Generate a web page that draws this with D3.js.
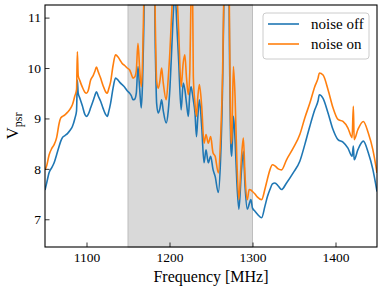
<!DOCTYPE html>
<html>
<head>
<meta charset="utf-8">
<script src="https://cdn.jsdelivr.net/npm/d3@7"></script>
<style>
  body { margin: 0; background: #fff; }
  text { font-family: "Liberation Serif", "Times New Roman", serif; fill: #000; }
</style>
</head>
<body>
<div id="chart"></div>
<script>
const width = 382;
const height = 289;
const margin = { top: 5, right: 5, bottom: 42, left: 45 };

// Frequencies in MHz (shared by both series)
const freq = [
    1050, 1052, 1055, 1058, 1061, 1064, 1067, 1069, 1071, 1074, 1077, 1080, 1083, 1086, 1088, 1089,
    1090, 1092, 1095, 1098, 1100, 1102, 1105, 1108, 1110, 1112, 1114, 1117, 1120, 1123, 1125, 1127,
    1129, 1132, 1135, 1138, 1141, 1143, 1146, 1149, 1152, 1154, 1156, 1158, 1160, 1162, 1164, 1166,
    1167.5, 1169, 1171, 1176, 1181, 1183, 1184.5, 1186.5, 1188.5, 1190.5, 1192.5, 1196, 1198.5, 1200.6,
    1203, 1205, 1207, 1209, 1211, 1214, 1216.5, 1218.5, 1220.5, 1222.7, 1224.5, 1226, 1227.5, 1228.7,
    1230.7, 1232.5, 1234, 1236, 1238.8, 1241.6, 1244, 1246.7, 1249.6, 1252.4, 1255, 1258.8, 1261.5, 1264,
    1265.5, 1267, 1271, 1272.5, 1274, 1275, 1277, 1279, 1281, 1283.6, 1286.5, 1289, 1291, 1293.7,
    1296, 1298, 1300, 1303, 1306, 1311, 1315, 1318, 1321, 1324, 1327, 1331, 1335, 1341, 1349, 1357,
    1363, 1369, 1375, 1379, 1380.5, 1385, 1391, 1397, 1403, 1409, 1415, 1420, 1421.5, 1422.5, 1427,
    1433.5, 1439.5, 1445, 1450
];

const noiseOff = [
    7.58, 7.72, 7.93, 8.02, 8.12, 8.28, 8.45, 8.55, 8.62, 8.66, 8.70, 8.76, 8.84, 9.00, 9.15, 9.76,
    9.50, 9.40, 9.25, 9.08, 9.04, 9.08, 9.21, 9.35, 9.45, 9.53, 9.45, 9.34, 9.20, 9.08, 9.04, 9.15,
    9.30, 9.60, 9.80, 9.76, 9.70, 9.67, 9.62, 9.55, 9.50, 9.45, 9.37, 9.38, 9.50, 10.03, 9.60, 9.21,
    9.70, 10.8, 12.5, 12.0, 12.5, 10.3, 9.30, 9.11, 9.20, 9.37, 9.15, 8.91, 9.15, 9.63,
    10.5, 11.2, 11.4, 10.8, 10.16, 9.17, 9.70, 9.57, 9.30, 9.04, 9.50, 9.63, 9.50, 9.37,
    9.11, 8.64, 9.00, 9.37, 8.84, 8.12, 8.38, 8.12, 8.25, 7.99, 7.85, 7.53, 8.18, 9.70,
    11.3, 12.5, 12.5, 10.0, 8.40, 8.25, 9.04, 8.58, 7.79, 7.20, 7.92, 8.35, 7.66, 7.20,
    7.30, 7.39, 7.22, 7.16, 7.10, 7.03, 7.26, 7.45, 7.59, 7.70, 7.72, 7.66, 7.59, 7.72, 7.92, 8.15,
    8.48, 8.84, 9.17, 9.35, 9.47, 9.40, 9.11, 8.78, 8.58, 8.53, 8.41, 8.25, 8.45, 8.18, 8.38,
    8.55, 8.32, 7.99, 7.55
];

const noiseOn = [
    7.98, 8.06, 8.28, 8.40, 8.48, 8.62, 8.90, 9.01, 9.04, 9.07, 9.12, 9.18, 9.27, 9.45, 9.57, 10.32,
    9.85, 9.75, 9.62, 9.52, 9.50, 9.55, 9.76, 9.85, 9.93, 10.02, 9.93, 9.80, 9.65, 9.53, 9.50, 9.60,
    9.72, 10.05, 10.26, 10.22, 10.14, 10.09, 10.05, 10.00, 9.96, 9.88, 9.80, 9.82, 9.95, 10.49, 10.00, 9.63,
    10.10, 11.3, 13.0, 12.5, 13.0, 10.8, 9.75, 9.60, 9.75, 10.00, 9.70, 9.37, 9.80, 10.36,
    11.2, 12.0, 12.0, 11.5, 10.75, 9.63, 10.10, 10.26, 9.80, 9.47, 9.95, 11.5, 12.0, 9.83,
    9.30, 9.04, 9.40, 9.67, 9.24, 8.51, 8.68, 8.51, 8.64, 8.32, 8.25, 7.92, 8.58, 9.93,
    11.5, 12.8, 12.8, 10.5, 8.50, 8.60, 10.03, 9.43, 8.25, 7.39, 8.18, 8.61, 7.85, 7.39,
    7.59, 7.58, 7.55, 7.50, 7.44, 7.39, 7.60, 7.80, 7.98, 8.08, 8.06, 8.00, 7.98, 8.18, 8.41, 8.68,
    9.01, 9.30, 9.63, 9.80, 9.90, 9.86, 9.57, 9.21, 8.98, 8.94, 8.81, 8.62, 9.24, 8.58, 8.78,
    8.94, 8.71, 8.38, 7.92
];

const seriesNames = ["noise off", "noise on"];
const seriesColors = ["#1f77b4", "#ff7f0e"];
const xTicks = [1100, 1200, 1300, 1400];
const yTicks = [7, 8, 9, 10, 11];
const shadedBand = [1150, 1300];

const svg = d3.select("#chart")
    .append("svg")
    .attr("width", width)
    .attr("height", height);

const x = d3.scaleLinear()
    .domain([1050, 1450])
    .range([margin.left, width - margin.right]);

const y = d3.scaleLinear()
    .domain([6.45, 11.25])
    .range([height - margin.bottom, margin.top]);

svg.append("defs").append("clipPath")
    .attr("id", "plot-clip")
    .append("rect")
    .attr("x", margin.left)
    .attr("y", margin.top)
    .attr("width", width - margin.left - margin.right)
    .attr("height", height - margin.top - margin.bottom);

// Shaded frequency band
svg.append("rect")
    .attr("x", x(shadedBand[0]))
    .attr("y", margin.top)
    .attr("width", x(shadedBand[1]) - x(shadedBand[0]))
    .attr("height", height - margin.top - margin.bottom)
    .attr("fill", "#d9d9d9")
    .attr("stroke", "#bebebe")
    .attr("stroke-width", 1);

// Spectra
const line = d3.line()
    .x((d, i) => x(freq[i]))
    .y(d => y(d))
    .curve(d3.curveMonotoneX);

const plot = svg.append("g").attr("clip-path", "url(#plot-clip)");

[noiseOff, noiseOn].forEach((values, k) => {
    plot.append("path")
        .datum(values)
        .attr("fill", "none")
        .attr("stroke", seriesColors[k])
        .attr("stroke-width", 1.6)
        .attr("stroke-linejoin", "round")
        .attr("d", line);
});

// Axes with inward ticks
const xMinor = d3.range(1060, 1450, 20).filter(v => v % 100 !== 0);
const yMinor = d3.range(6.6, 11.25, 0.2).filter(v => Math.abs(v - Math.round(v)) > 0.01);

const xAxis = svg.append("g")
    .attr("transform", `translate(0, ${height - margin.bottom})`);
xAxis.call(d3.axisBottom(x).tickValues(xMinor).tickSize(-2.5).tickFormat(""));
xAxis.call(d3.axisBottom(x).tickValues(xTicks).tickSize(-4.5).tickPadding(5).tickFormat(d3.format("d")));

const yAxis = svg.append("g")
    .attr("transform", `translate(${margin.left}, 0)`);
yAxis.call(d3.axisLeft(y).tickValues(yMinor).tickSize(-2.5).tickFormat(""));
yAxis.call(d3.axisLeft(y).tickValues(yTicks).tickSize(-4.5).tickPadding(4).tickFormat(d3.format("d")));

svg.selectAll(".domain").remove();
svg.selectAll(".tick line").attr("stroke", "#000").attr("stroke-width", 0.8);
svg.selectAll(".tick text")
    .style("font-family", "'Liberation Serif', serif")
    .style("font-size", "13.5px")
    .attr("fill", "#000");

// Frame
svg.append("rect")
    .attr("x", margin.left)
    .attr("y", margin.top)
    .attr("width", width - margin.left - margin.right)
    .attr("height", height - margin.top - margin.bottom)
    .attr("fill", "none")
    .attr("stroke", "#000")
    .attr("stroke-width", 1.1);

// Axis labels
svg.append("text")
    .attr("x", (margin.left + width - margin.right) / 2)
    .attr("y", 282)
    .attr("text-anchor", "middle")
    .style("font-size", "16px")
    .text("Frequency [MHz]");

const ylab = svg.append("text")
    .attr("transform", `translate(18, ${(margin.top + height - margin.bottom) / 2}) rotate(-90)`)
    .attr("text-anchor", "middle")
    .style("font-size", "17px");
ylab.append("tspan").text("V");
ylab.append("tspan").attr("dy", 4).style("font-size", "12px").text("psr");

// Legend
const legend = svg.append("g").attr("transform", "translate(263, 13)");
legend.append("rect")
    .attr("width", 106)
    .attr("height", 46)
    .attr("rx", 3)
    .attr("fill", "#fff")
    .attr("fill-opacity", 0.8)
    .attr("stroke", "#cccccc")
    .attr("stroke-width", 1);

seriesNames.forEach((name, k) => {
    const yy = 11 + k * 20;
    legend.append("line")
        .attr("x1", 5).attr("x2", 36)
        .attr("y1", yy).attr("y2", yy)
        .attr("stroke", seriesColors[k])
        .attr("stroke-width", 1.6);
    legend.append("text")
        .attr("x", 48)
        .attr("y", yy + 5)
        .style("font-size", "15px")
        .text(name);
});
</script>
</body>
</html>
